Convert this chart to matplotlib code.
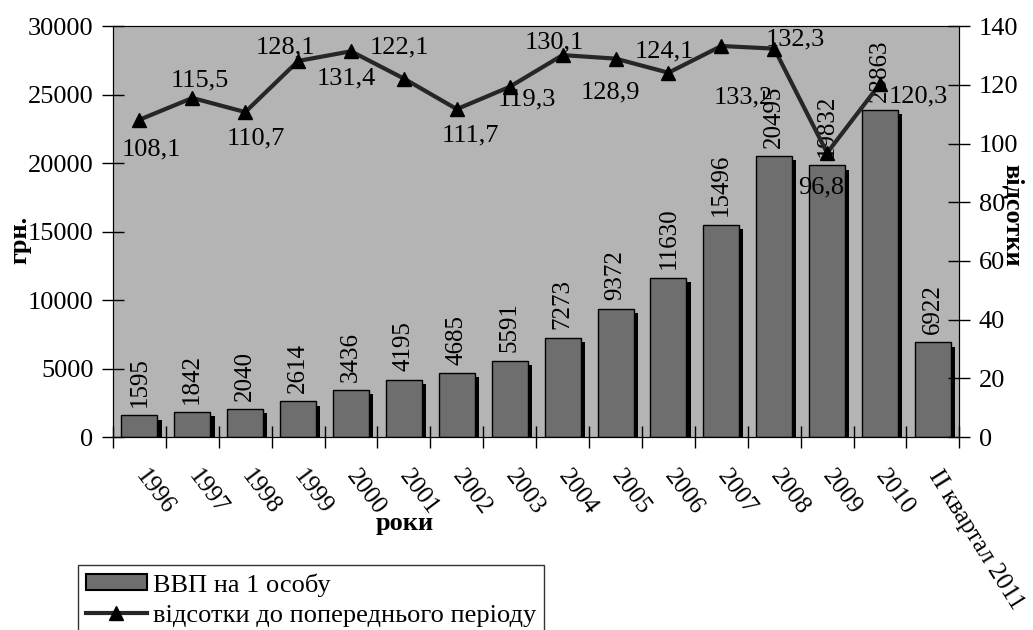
import matplotlib.pyplot as plt
import matplotlib.patheffects as pe
from matplotlib.patches import Patch
import numpy as np

plt.rcParams['font.family'] = ['Liberation Serif', 'DejaVu Serif']

# data
years = ['1996', '1997', '1998', '1999', '2000', '2001', '2002', '2003',
         '2004', '2005', '2006', '2007', '2008', '2009', '2010', 'ІІ квартал 2011']
gdp = [1595, 1842, 2040, 2614, 3436, 4195, 4685, 5591,
       7273, 9372, 11630, 15496, 20495, 19832, 23863, 6922]
pct = [108.1, 115.5, 110.7, 128.1, 131.4, 122.1, 111.7, 119.3,
       130.1, 128.9, 124.1, 133.2, 132.3, 96.8, 120.3]

# label offsets for the percent line (pixels, x right / y down)
pct_off = [(12, 30), (7, -18), (11, 26), (-13, -14), (-5, 27), (-5, -31),
           (14, 26), (17, 13), (-8, -13), (-5, 34), (-4, -21), (22, 51),
           (21, -9), (-6, 35), (38, 13)]

BG = '#b4b4b4'
BAR = '#6e6e6e'
FS = 19

fig = plt.figure(figsize=(10.33, 6.3), dpi=100)
ax = fig.add_axes([0.1094, 0.306, 0.8193, 0.6527])
ax.set_facecolor(BG)

x = np.arange(len(years))
bars = ax.bar(x, gdp, width=0.68, color=BAR, edgecolor='black', linewidth=1, zorder=2)
for b in bars:
    b.set_path_effects([pe.SimplePatchShadow(offset=(3, -3), shadow_rgbFace='black', alpha=1),
                        pe.Normal()])
for xi, v in zip(x, gdp):
    ax.annotate(str(v), (xi, v), xytext=(0, 6), textcoords='offset points',
                rotation=90, ha='center', va='bottom', fontsize=18, zorder=5)

ax.set_xlim(-0.5, len(years) - 0.5)
ax.set_ylim(0, 30000)
ax.set_yticks(range(0, 30001, 5000))
ax.set_xticks(x)
ax.set_xticklabels(years, rotation=-53, ha='left', va='center', rotation_mode='anchor', fontsize=18)
ax.get_xticklabels()[-1].set_rotation(-58)
ax.set_xticks(np.arange(-0.5, len(years)), minor=True)
ax.tick_params(axis='x', which='major', length=0, pad=25)
ax.tick_params(axis='x', which='minor', direction='inout', length=16, width=1)
ax.tick_params(axis='y', direction='inout', length=16, width=1, labelsize=FS, pad=6)
ax.set_ylabel('грн.', fontsize=FS, fontweight='bold', va='center')
ax.yaxis.set_label_coords(-0.11, 0.48)
ax.set_xlabel('роки', fontsize=FS, fontweight='bold')
ax.xaxis.set_label_coords(0.345, -0.182)
ax.spines['top'].set_color('#666666')

ax2 = ax.twinx()
ax2.set_ylim(0, 140)
ax2.set_yticks(range(0, 141, 20))
ax2.tick_params(axis='y', direction='inout', length=16, width=1, labelsize=FS, pad=6)
line, = ax2.plot(x[:len(pct)], pct, color='#262626', linewidth=3, marker='^',
                 markersize=10, markerfacecolor='black', markeredgecolor='black',
                 label='відсотки до попереднього періоду', zorder=4)
for xi, v, (dx, dy) in zip(x, pct, pct_off):
    ax2.annotate(('%.1f' % v).replace('.', ','), (xi, v), xytext=(dx * 0.72, -dy * 0.72),
                 textcoords='offset points', ha='center', va='center', fontsize=FS)
ax2.set_ylabel('відсотки', fontsize=FS, fontweight='bold', rotation=-90, va='center')
ax2.yaxis.set_label_coords(1.063, 0.54)

bar_handle = Patch(facecolor=BAR, edgecolor='black', linewidth=1.5, label='ВВП на 1 особу')
leg = fig.legend(handles=[bar_handle, line], loc='upper left', bbox_to_anchor=(0.0755, 0.103),
                 fontsize=FS, frameon=True, fancybox=False, edgecolor='black',
                 borderaxespad=0, borderpad=0.3, handlelength=2.3, handleheight=0.55,
                 handletextpad=0.25, labelspacing=0.3)
leg.get_frame().set_linewidth(1)

fig.savefig('out.png', dpi=100)
